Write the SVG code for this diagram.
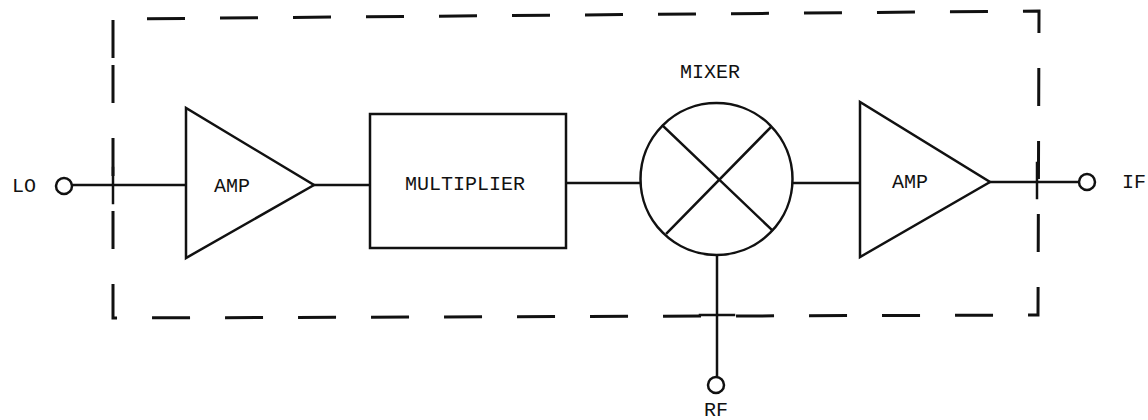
<svg xmlns="http://www.w3.org/2000/svg" width="1148" height="420" viewBox="0 0 1148 420">
<style>
.s{fill:none;stroke:#111;stroke-width:2.5;stroke-linecap:square}
.w{fill:#fff;stroke:#111;stroke-width:2.5}
.b{fill:none;stroke:#111;stroke-width:3;stroke-dasharray:38 35}
text{font-family:"Liberation Mono","DejaVu Sans Mono",monospace;font-size:20px;fill:#111;dominant-baseline:central}
</style>
<rect width="1148" height="420" fill="#fff"/>
<g id="boundary">
<path class="b" d="M113,58 L113,19 L1039,11 L1038,315 L113,318 L113,58"/>
</g>
<g id="connectors">
<line class="s" x1="72" y1="185" x2="186" y2="185"/>
<line class="s" x1="113" y1="168" x2="113" y2="203"/>
<line class="s" x1="314" y1="185" x2="370" y2="185"/>
<line class="s" x1="566" y1="183" x2="640" y2="183"/>
<line class="s" x1="793" y1="183" x2="860" y2="183"/>
<line class="s" x1="990" y1="182" x2="1079" y2="182"/>
<line class="s" x1="1037" y1="163" x2="1037" y2="198"/>
<line class="s" x1="717" y1="254" x2="717" y2="377"/>
<line class="s" x1="700" y1="315" x2="734" y2="315"/>
</g>
<g id="LO">
<circle class="w" cx="64" cy="186" r="8"/>
<text x="24" y="186" text-anchor="middle">LO</text>
</g>
<g id="amp1">
<polygon class="w" points="186,108 186,258 314,185"/>
<text x="232" y="186" text-anchor="middle">AMP</text>
</g>
<g id="multiplier">
<rect class="w" x="370" y="114" width="196" height="134"/>
<text x="465" y="184" text-anchor="middle">MULTIPLIER</text>
</g>
<g id="mixer">
<circle class="w" cx="716.5" cy="179" r="76"/>
<line class="s" x1="663" y1="126" x2="772" y2="230"/>
<line class="s" x1="770" y1="128" x2="667" y2="233"/>
<text x="710" y="72" text-anchor="middle">MIXER</text>
</g>
<g id="amp2">
<polygon class="w" points="860,102 860,257 990,182"/>
<text x="910" y="182" text-anchor="middle">AMP</text>
</g>
<g id="IF">
<circle class="w" cx="1087" cy="182" r="8"/>
<text x="1134" y="182" text-anchor="middle">IF</text>
</g>
<g id="RF">
<circle class="w" cx="716" cy="385" r="8"/>
<text x="716" y="410" text-anchor="middle">RF</text>
</g>
</svg>
